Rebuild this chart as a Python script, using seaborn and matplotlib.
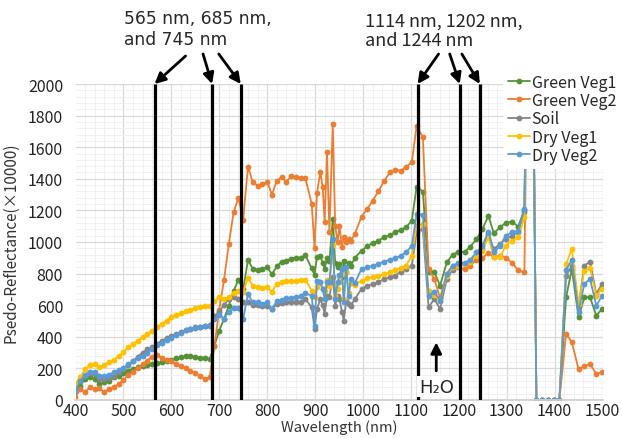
import matplotlib

matplotlib.use("Agg")
import matplotlib.pyplot as plt
import seaborn as sns
from matplotlib.ticker import MultipleLocator

# wavelength grid (nm)
wavelengths = [
    400, 410, 420, 430, 440, 450, 460, 470, 480, 490, 500, 510, 520, 530, 540, 550, 560,
    570, 580, 590, 600, 610, 620, 630, 640, 650, 660, 670, 680, 690, 700, 710, 720, 730,
    740, 750, 760, 770, 780, 790, 800, 810, 820, 830, 840, 850, 860, 870, 880,
    893, 899, 904, 911, 916, 920, 925, 930, 937, 942, 947, 951, 956, 960, 965, 970, 975, 983,
    997, 1009, 1020, 1032, 1044, 1056, 1067, 1079, 1090, 1102,
    1112, 1125, 1137, 1149, 1161, 1175, 1187, 1199, 1212, 1224, 1237, 1249, 1262, 1273,
    1286, 1298, 1311, 1324, 1337,
    1349, 1362, 1374, 1386, 1398, 1410,
    1424, 1436, 1450, 1462, 1474, 1487, 1499,
]

green_veg1 = [
    49, 91, 133, 143, 133, 101, 112, 122, 143, 154, 171, 186, 196, 207, 217, 221, 228,
    232, 238, 249, 255, 264, 270, 276, 276, 272, 266, 264, 259, 344, 439, 513, 597, 690,
    760, 700, 886, 830, 820, 830, 840, 795, 845, 875, 880, 895, 900, 900, 915,
    833, 791, 905, 909, 870, 829, 900, 880, 1146, 870, 840, 860, 776, 882, 808, 870, 850, 900,
    945, 973, 994, 1008, 1030, 1044, 1061, 1078, 1093, 1135,
    1350, 1319, 808, 810, 724, 871, 920, 937, 937, 970, 1019, 1080, 1165, 1056,
    1092, 1122, 1129, 1098, 1205,
    4000, 0, 0, 0, 0, 0,
    650, 829, 523, 650, 650, 534, 576,
]

green_veg2 = [
    17, 70, 50, 80, 70, 75, 50, 70, 85, 100, 125, 160, 180, 200, 225, 250, 275,
    285, 265, 255, 245, 230, 215, 200, 185, 170, 150, 135, 145, 340, 572, 760, 987, 1188,
    1278, 1141, 1477, 1378, 1357, 1367, 1382, 1300, 1388, 1409, 1382, 1416, 1409, 1407, 1403,
    1240, 962, 1310, 1445, 1346, 1129, 1568, 1061, 1750, 1103, 998, 1103, 966, 1030, 1000, 1019, 1008, 1051,
    1160, 1210, 1260, 1320, 1385, 1440, 1458, 1452, 1475, 1505,
    1736, 1662, 829, 766, 645, 800, 850, 840, 829, 850, 885, 900, 930, 905,
    912, 900, 870, 820, 808,
    4000, 0, 0, 0, 0, 0,
    420, 365, 196, 213, 228, 165, 175,
]

soil = [
    75, 130, 155, 170, 165, 130, 135, 140, 155, 175, 195, 220, 245, 275, 300, 320, 335,
    355, 375, 390, 405, 420, 430, 440, 450, 455, 462, 468, 470, 530, 560, 601, 639, 650,
    639, 618, 622, 600, 601, 597, 597, 576, 608, 615, 618, 618, 622, 622, 639,
    586, 449, 576, 639, 600, 544, 660, 650, 780, 597, 660, 639, 560, 502, 629, 608, 597, 639,
    703, 724, 734, 745, 766, 776, 787, 812, 829, 850,
    1061, 1082, 587, 639, 576, 766, 825, 850, 861, 882, 914, 956, 1051, 956,
    987, 1019, 1040, 1061, 1188,
    4000, 0, 0, 0, 0, 0,
    783, 850, 597, 850, 876, 671, 734,
]

dry_veg1 = [
    105, 143, 196, 221, 228, 207, 221, 238, 255, 276, 302, 333, 354, 375, 397, 418, 439,
    460, 481, 502, 523, 538, 551, 561, 572, 580, 591, 597, 593, 625, 650, 639, 650, 677,
    692, 686, 770, 724, 713, 709, 713, 686, 734, 745, 751, 751, 755, 757, 762,
    692, 650, 713, 745, 700, 692, 760, 720, 980, 660, 700, 750, 800, 640, 810, 680, 740, 730,
    755, 770, 776, 783, 797, 808, 825, 833, 850, 914,
    1103, 1114, 692, 665, 625, 787, 840, 850, 861, 876, 914, 945, 1030, 903,
    903, 977, 1008, 1030, 1156,
    4000, 0, 0, 0, 0, 0,
    861, 956, 608, 819, 835, 660, 703,
]

dry_veg2 = [
    60, 120, 160, 180, 180, 150, 150, 160, 175, 190, 205, 225, 245, 265, 280, 300, 320,
    345, 360, 380, 395, 410, 425, 440, 450, 460, 465, 470, 475, 510, 540, 515, 560, 580,
    585, 515, 670, 618, 618, 610, 618, 576, 625, 635, 643, 645, 650, 658, 675,
    660, 470, 755, 745, 700, 639, 745, 745, 1019, 639, 745, 790, 829, 618, 840, 660, 766, 740,
    829, 840, 850, 861, 876, 888, 897, 914, 935, 975,
    1177, 1171, 660, 686, 629, 797, 850, 867, 867, 888, 935, 977, 1065, 935,
    977, 1040, 1061, 1072, 1209,
    4000, 0, 0, 0, 0, 0,
    823, 886, 559, 734, 766, 597, 660,
]

series = {
    "Green Veg1": (green_veg1, "#559236"),
    "Green Veg2": (green_veg2, "#ED7D31"),
    "Soil": (soil, "#858585"),
    "Dry Veg1": (dry_veg1, "#FFC000"),
    "Dry Veg2": (dry_veg2, "#5B9BD5"),
}

marked_nm = [565, 685, 745, 1114, 1202, 1244]

W, H = 622, 439


def main() -> None:
    sns.set_theme(style="white")
    plt.rcParams["font.family"] = ["Noto Sans CJK KR", "DejaVu Sans"]

    fig = plt.figure(figsize=(W / 100, H / 100), dpi=100)
    ax = fig.add_axes([75.5 / W, 1 - 401 / H, 527 / W, 316 / H])

    for name, (vals, color) in series.items():
        assert len(vals) == len(wavelengths), name
        sns.lineplot(
            x=wavelengths, y=vals, ax=ax, color=color, label=name,
            marker="o", markersize=4.2, markeredgewidth=0, linewidth=1.3,
            estimator=None, sort=False,
        )

    ax.set_xlim(400, 1500)
    ax.set_ylim(0, 2000)
    ax.xaxis.set_major_locator(MultipleLocator(100))
    ax.xaxis.set_minor_locator(MultipleLocator(20))
    ax.yaxis.set_major_locator(MultipleLocator(200))
    ax.yaxis.set_minor_locator(MultipleLocator(40))
    ax.grid(which="major", color="#D9D9D9", linewidth=0.9)
    ax.grid(which="minor", color="#EFEFEF", linewidth=0.6)
    ax.set_axisbelow(True)
    for side in ["top", "right", "left"]:
        ax.spines[side].set_visible(False)
    ax.spines["bottom"].set_color("#D0D0D0")
    ax.tick_params(axis="both", which="both", length=0, labelsize=11.5, colors="#222222")
    ax.tick_params(axis="y", pad=9)
    ax.tick_params(axis="x", pad=1.5)

    ax.set_xlabel("Wavelength (nm)", fontsize=10.5, labelpad=0, color="#333333")
    ax.set_ylabel("Psedo-Reflectance(×10000)", fontsize=11, labelpad=6, color="#333333")

    # marked wavelengths
    ax.vlines(marked_nm, 0, 2000, color="black", linewidth=2.3, zorder=6)

    arrow = dict(arrowstyle="-|>", color="black", lw=2, mutation_scale=16,
                 shrinkA=0, shrinkB=0)
    offsets = [(31, 28), (-9, 30), (-22, 30), (21, 30), (-10, 30), (-18, 30)]
    for nm, off in zip(marked_nm, offsets):
        ax.annotate("", xy=(nm, 2000), xytext=off, textcoords="offset pixels",
                    arrowprops=arrow, annotation_clip=False, zorder=7)

    fig.text(124 / W, 1 - 10 / H, "565 nm, 685 nm,\nand 745 nm", fontsize=12.3,
             family="DejaVu Sans", va="top", ha="left", linespacing=1.2)
    fig.text(365 / W, 1 - 13 / H, "1114 nm, 1202 nm,\nand 1244 nm", fontsize=13,
             va="top", ha="left", linespacing=1.1)

    ax.annotate("", xy=(1153, 365), xytext=(1153, 185), arrowprops=arrow, zorder=7)
    ax.text(1153, 85, "H₂O", fontsize=13, ha="center", va="center", zorder=7,
            family=["DejaVu Sans"],
            bbox=dict(facecolor="white", edgecolor="none", pad=1))

    leg = ax.legend(
        loc="upper left", bbox_to_anchor=(503 / W, 1 - 70 / H),
        bbox_transform=fig.transFigure, fontsize=11.5, frameon=True,
        facecolor="white", edgecolor="none", framealpha=1, borderpad=0.3,
        handlelength=1.4, handletextpad=0.1, labelspacing=0.08, borderaxespad=0,
    )
    leg.set_zorder(10)

    fig.savefig("out.png", dpi=100)
    plt.close(fig)


if __name__ == "__main__":
    main()
